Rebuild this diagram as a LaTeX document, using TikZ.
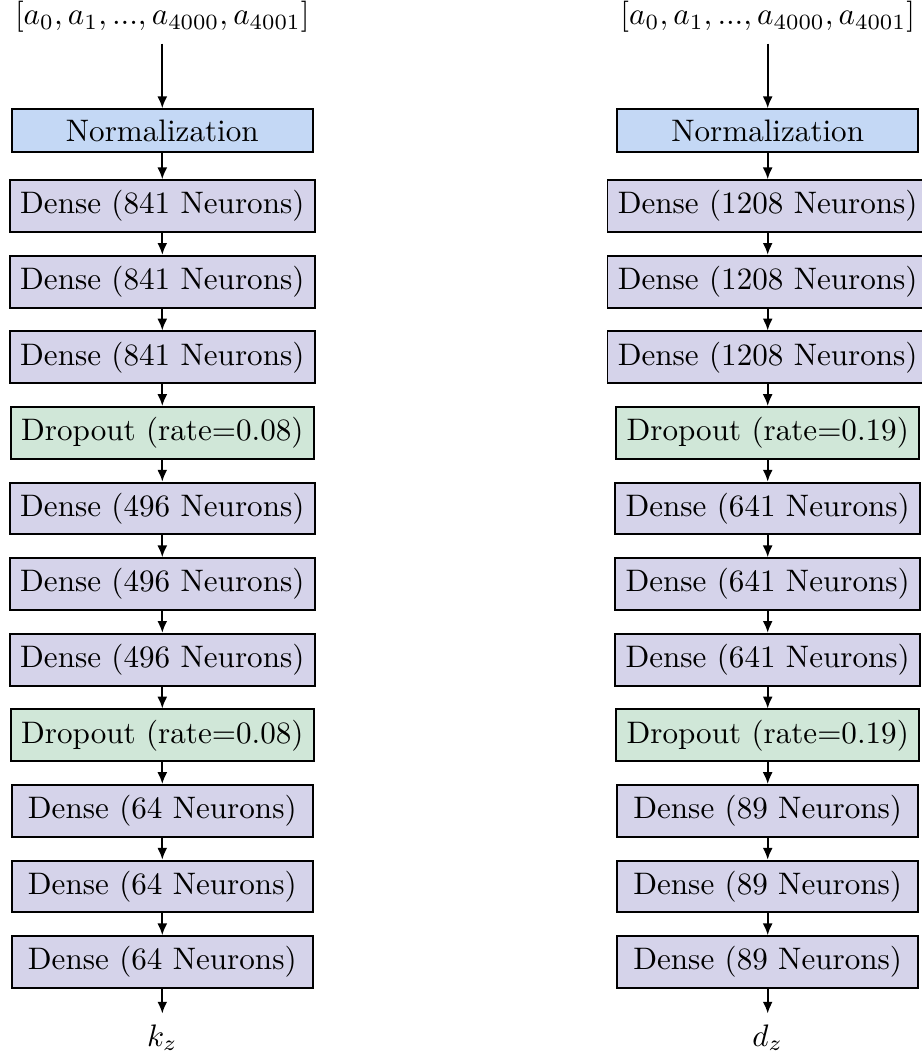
\documentclass[tikz,border=0pt]{standalone}
\usetikzlibrary{arrows.meta}

% fill colours of the three layer kinds
\definecolor{normfill}{RGB}{196,216,245}
\definecolor{densefill}{RGB}{213,211,234}
\definecolor{dropfill}{RGB}{208,231,216}

\tikzset{
  layer/.style={draw=black, semithick, minimum width=3.4cm, inner sep=0.3333em},
  normlayer/.style={layer, fill=normfill},
  denselayer/.style={layer, fill=densefill},
  droplayer/.style={layer, fill=dropfill},
  flow/.style={semithick, -{Latex[length=3.8pt,width=3.2pt]}},
}

\begin{document}
\begin{tikzpicture}[x=0.32154pt, y=-0.32154pt]
  \useasboundingbox (0,0) rectangle (921,1056);
  \def\xL{162.3}
  \def\xR{767.7}
  \def\ytop{130.5}
  \def\pitch{75.6}

  % ---------- left network ----------
  \foreach \t/\s [count=\i from 0] in {
      Normalization/normlayer,
      Dense (841 Neurons)/denselayer,
      Dense (841 Neurons)/denselayer,
      Dense (841 Neurons)/denselayer,
      Dropout (rate=0.08)/droplayer,
      Dense (496 Neurons)/denselayer,
      Dense (496 Neurons)/denselayer,
      Dense (496 Neurons)/denselayer,
      Dropout (rate=0.08)/droplayer,
      Dense (64 Neurons)/denselayer,
      Dense (64 Neurons)/denselayer,
      Dense (64 Neurons)/denselayer}
    \node[\s] (L\i) at (\xL, {\ytop+\pitch*\i}) {\t};

  \node (Lin) at (\xL, {\ytop-1.5*\pitch}) {$[a_0, a_1, ..., a_{4000}, a_{4001}]$};
  \node (Lout) at (\xL, {\ytop+12*\pitch}) {$k_z$};

  \draw[flow] (Lin) -- (L0);
  \foreach \i in {0,...,10} {
    \pgfmathtruncatemacro\j{\i+1}
    \draw[flow] (L\i) -- (L\j);
  }
  \draw[flow] (L11) -- (Lout);

  % ---------- right network ----------
  \foreach \t/\s [count=\i from 0] in {
      Normalization/normlayer,
      Dense (1208 Neurons)/denselayer,
      Dense (1208 Neurons)/denselayer,
      Dense (1208 Neurons)/denselayer,
      Dropout (rate=0.19)/droplayer,
      Dense (641 Neurons)/denselayer,
      Dense (641 Neurons)/denselayer,
      Dense (641 Neurons)/denselayer,
      Dropout (rate=0.19)/droplayer,
      Dense (89 Neurons)/denselayer,
      Dense (89 Neurons)/denselayer,
      Dense (89 Neurons)/denselayer}
    \node[\s] (R\i) at (\xR, {\ytop+\pitch*\i}) {\t};

  \node (Rin) at (\xR, {\ytop-1.5*\pitch}) {$[a_0, a_1, ..., a_{4000}, a_{4001}]$};
  \node (Rout) at (\xR, {\ytop+12*\pitch}) {$d_z$};

  \draw[flow] (Rin) -- (R0);
  \foreach \i in {0,...,10} {
    \pgfmathtruncatemacro\j{\i+1}
    \draw[flow] (R\i) -- (R\j);
  }
  \draw[flow] (R11) -- (Rout);
\end{tikzpicture}
\end{document}
